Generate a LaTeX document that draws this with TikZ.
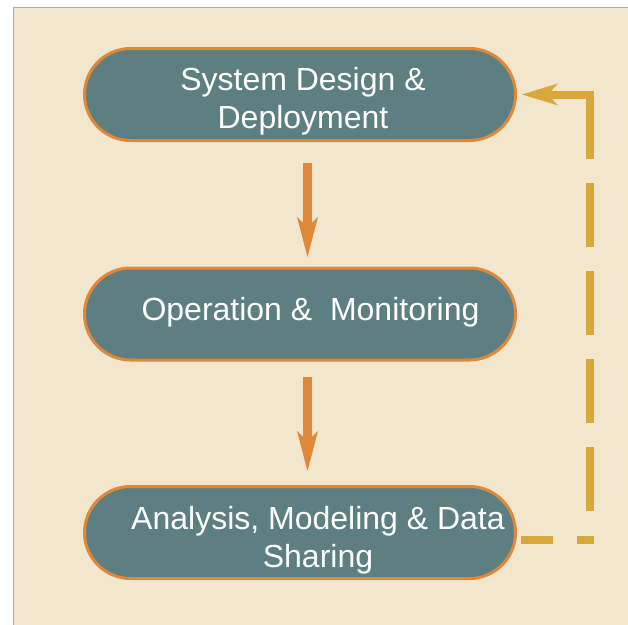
\documentclass[tikz,border=0pt]{standalone}
\usepackage{fontspec}
\setmainfont{Liberation Sans}
\usetikzlibrary{arrows.meta,shapes.misc}

\definecolor{paper}{HTML}{F2E6CD}
\definecolor{frameline}{HTML}{9DB0B2}
\definecolor{boxfill}{HTML}{5E7F81}
\definecolor{boxedge}{HTML}{E0883A}
\definecolor{flow}{HTML}{E0883A}
\definecolor{loopback}{HTML}{D8A83C}

\begin{document}
\begin{tikzpicture}[x=1pt,y=-1pt,
  stage/.style={rounded rectangle, draw=boxedge, line width=3pt, fill=boxfill,
    minimum width=431pt, minimum height=92pt, inner sep=0pt, outer sep=0pt},
  caption/.style={text=white, font=\fontsize{32}{38}\selectfont, align=center,
    inner sep=0pt},
  flowarrow/.style={draw=flow, line width=9pt,
    -{Stealth[length=40pt,width=21pt,inset=10pt,line width=0pt]}},
  loopline/.style={draw=loopback, line width=8pt, line join=miter,
    dash pattern=on 32.5pt off 23.5pt on 17.5pt off 25pt on 64pt off 24pt
      on 64pt off 24pt on 64pt off 24pt on 64pt off 24pt on 400pt off 10pt,
    -{Stealth[length=36pt,width=22pt,inset=10pt,line width=0pt]}}
]
\useasboundingbox (0,0) rectangle (628,624);
\fill[white] (0,0) rectangle (628,624);
% paper panel with its thin frame on top and left
\path[fill=paper, draw=frameline, line width=1.5pt] (13.5,7.5) rectangle (650,650);

% the three stages
\node[stage] (design)  at (300,94.5) {};
\node[stage] (operate) at (300,314) {};
\node[stage] (analyse) at (300,532.5) {};

% captions: the base anchor of a two-line caption sits on its last line
\node[caption, anchor=base] (designtext)  at (303,128)  {System Design \&\\Deployment};
\node[caption, anchor=base] (operatetext) at (310.5,320) {Operation \&\ \ Monitoring};
\node[caption, anchor=base] (analysetext) at (318,567) {Analysis, Modeling \& Data\\Sharing};

% forward flow
\draw[flowarrow, shorten <=22.5pt, shorten >=11pt]
  ([xshift=7.5pt]design.south) -- ([xshift=7.5pt]operate.north);
\draw[flowarrow, shorten <=16.5pt, shorten >=15.5pt]
  ([xshift=7.5pt]operate.south) -- ([xshift=7.5pt]analyse.north);

% feedback loop back to the design stage
\coordinate (loopcorner) at (590,94.5);
\draw[loopline] ([shift={(5pt,-7.5pt)}]analyse.east) -| (loopcorner)
  -- ([xshift=6.5pt]design.east);
\end{tikzpicture}
\end{document}
